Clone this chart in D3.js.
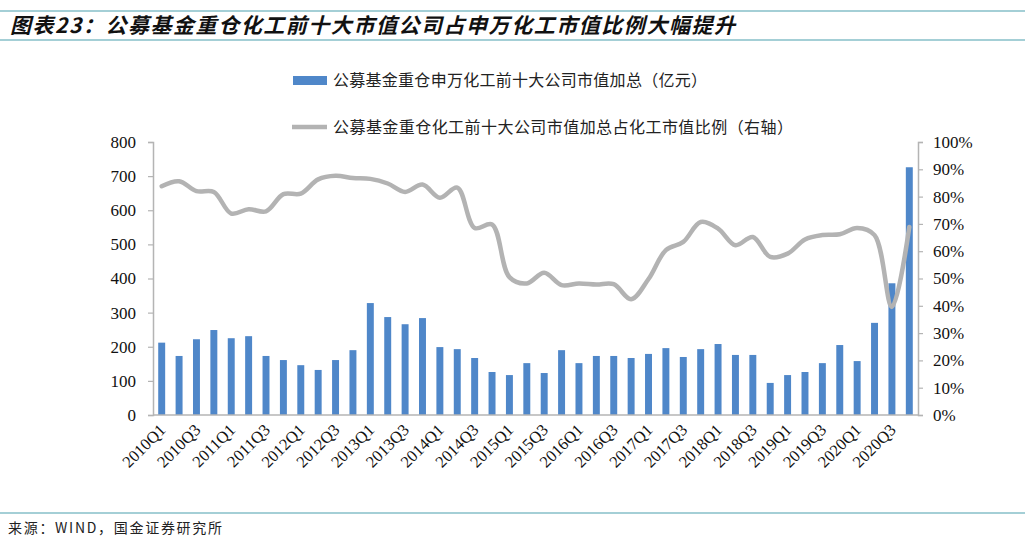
<!DOCTYPE html>
<html>
<head>
<meta charset="utf-8">
<script src="https://cdn.jsdelivr.net/npm/d3@7"></script>
<style>
  body { margin: 0; background: #fff; }
  svg { display: block; }
</style>
</head>
<body>
<div id="chart"></div>
<script>
const quarters = [];
for (let yr = 2010; yr <= 2020; yr++) {
    for (let q = 1; q <= 4; q++) quarters.push(yr + "Q" + q);
}

// 公募基金重仓申万化工前十大公司市值加总（亿元）
const marketValue = [
    212, 173, 222, 249, 225, 231, 173, 161, 146, 132, 161, 190,
    328, 287, 266, 284, 199, 193, 167, 126, 117, 152, 123, 190,
    152, 173, 173, 167, 179, 196, 170, 193, 208, 176, 176, 94,
    117, 126, 152, 205, 158, 270, 386, 726
];

// 占化工市值比例（右轴，%）
const sharePct = [
    83.8, 85.6, 82.0, 81.7, 73.8, 75.4, 74.6, 80.9, 81.1, 86.3, 87.6, 86.8,
    86.5, 84.8, 81.7, 84.4, 79.6, 83.3, 68.5, 69.8, 50.5, 48.2, 52.1, 47.6,
    48.2, 47.8, 47.9, 42.4, 49.8, 60.4, 63.4, 70.7, 68.3, 62.2, 65.2, 57.9,
    59.1, 64.3, 65.9, 66.2, 68.5, 65.9, 39.6, 68.9
];

const leftTicks = [0, 100, 200, 300, 400, 500, 600, 700, 800];
const rightTicks = [0, 10, 20, 30, 40, 50, 60, 70, 80, 90, 100];

const W = 1025, H = 549;
const cn = "'Noto Sans CJK SC', sans-serif";
const serif = "'Liberation Serif', 'Times New Roman', serif";
const teal = "#4b9fae";
const axisGrey = "#b4b4b4";

const svg = d3.select("#chart").append("svg")
    .attr("width", W)
    .attr("height", H);

// title block
svg.append("line").attr("x1", 0).attr("x2", W).attr("y1", 11).attr("y2", 11)
    .attr("stroke", teal).attr("stroke-width", 1.2);
svg.append("line").attr("x1", 0).attr("x2", W).attr("y1", 40).attr("y2", 40)
    .attr("stroke", teal).attr("stroke-width", 1.2);
svg.append("text")
    .attr("x", 10).attr("y", 33)
    .attr("font-family", cn)
    .attr("font-size", 21)
    .attr("font-weight", "bold")
    .attr("font-style", "italic")
    .attr("textLength", 725)
    .attr("lengthAdjust", "spacing")
    .attr("fill", "#111")
    .text("图表23：公募基金重仓化工前十大市值公司占申万化工市值比例大幅提升");

// source
svg.append("line").attr("x1", 0).attr("x2", W).attr("y1", 513).attr("y2", 513)
    .attr("stroke", teal).attr("stroke-width", 1.2);
svg.append("text")
    .attr("x", 8).attr("y", 533)
    .attr("font-family", cn)
    .attr("font-size", 14)
    .attr("textLength", 214)
    .attr("lengthAdjust", "spacing")
    .attr("fill", "#222")
    .text("来源：WIND，国金证券研究所");

// scales
const plotL = 153, plotR = 918, plotT = 142, plotB = 415;

const x = d3.scaleBand()
    .domain(quarters)
    .range([plotL, plotR])
    .paddingInner(0.6)
    .paddingOuter(0.3);

const xc = d => x(d) + x.bandwidth() / 2;

const y = d3.scaleLinear().domain([0, 800]).range([plotB, plotT]);
const y2 = d3.scaleLinear().domain([0, 100]).range([plotB, plotT]);

// bars
svg.append("g")
    .selectAll("rect")
    .data(marketValue)
    .join("rect")
    .attr("x", (d, i) => x(quarters[i]))
    .attr("width", x.bandwidth())
    .attr("y", d => y(d))
    .attr("height", d => plotB - y(d))
    .attr("fill", "#4f87c9");

// line
const line = d3.line()
    .x((d, i) => xc(quarters[i]))
    .y(d => y2(d))
    .curve(d3.curveCatmullRom.alpha(0.5));

svg.append("path")
    .datum(sharePct)
    .attr("fill", "none")
    .attr("stroke", "#b3b3b3")
    .attr("stroke-width", 4.5)
    .attr("stroke-linecap", "round")
    .attr("d", line);

// left axis
const gL = svg.append("g")
    .attr("transform", `translate(${plotL},0)`)
    .call(d3.axisLeft(y).tickValues(leftTicks).tickSize(5).tickPadding(12));
gL.select(".domain").attr("stroke", axisGrey).attr("stroke-width", 1.5);
gL.selectAll(".tick line").attr("stroke", axisGrey).attr("stroke-width", 1.2);
gL.selectAll(".tick text")
    .attr("font-family", serif).attr("font-size", 17).attr("fill", "#111");

// right axis
const gR = svg.append("g")
    .attr("transform", `translate(${plotR},0)`)
    .call(d3.axisRight(y2).tickValues(rightTicks).tickSize(5).tickPadding(10)
        .tickFormat(d => d + "%"));
gR.select(".domain").attr("stroke", axisGrey).attr("stroke-width", 1.5);
gR.selectAll(".tick line").attr("stroke", axisGrey).attr("stroke-width", 1.2);
gR.selectAll(".tick text")
    .attr("font-family", serif).attr("font-size", 17).attr("fill", "#111");

// bottom axis (line + rotated labels)
svg.append("line")
    .attr("x1", plotL).attr("x2", plotR)
    .attr("y1", plotB).attr("y2", plotB)
    .attr("stroke", axisGrey).attr("stroke-width", 1.5);

svg.append("g")
    .selectAll("text")
    .data(quarters.filter((d, i) => i % 2 === 0))
    .join("text")
    .attr("transform", d => `translate(${xc(d) + 5},${plotB + 16}) rotate(-45)`)
    .attr("text-anchor", "end")
    .attr("font-family", serif)
    .attr("font-size", 16.5)
    .attr("fill", "#111")
    .text(d => d);

// legend
const legend = svg.append("g");
legend.append("rect")
    .attr("x", 293).attr("y", 76).attr("width", 34).attr("height", 9)
    .attr("fill", "#4f87c9");
legend.append("text")
    .attr("x", 333).attr("y", 86)
    .attr("font-family", cn).attr("font-size", 16)
    .attr("textLength", 374)
    .attr("lengthAdjust", "spacing")
    .attr("fill", "#222")
    .text("公募基金重仓申万化工前十大公司市值加总（亿元）");
legend.append("line")
    .attr("x1", 292).attr("x2", 327).attr("y1", 127).attr("y2", 127)
    .attr("stroke", "#b3b3b3").attr("stroke-width", 4.5);
legend.append("text")
    .attr("x", 333).attr("y", 133)
    .attr("font-family", cn).attr("font-size", 16)
    .attr("textLength", 460)
    .attr("lengthAdjust", "spacing")
    .attr("fill", "#222")
    .text("公募基金重仓化工前十大公司市值加总占化工市值比例（右轴）");
</script>
</body>
</html>
